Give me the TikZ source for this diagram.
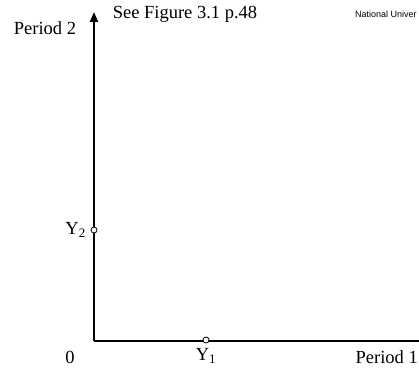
\documentclass[tikz,border=0pt]{standalone}
\usepackage{fontspec}
\setmainfont{Liberation Serif}
\newfontfamily\labelsans{Liberation Sans}
\usetikzlibrary{arrows.meta,positioning}
\tikzset{>=Stealth,every node/.style={font=\fontsize{18.5}{20}\selectfont,inner sep=0pt},
 axis/.style={line width=2.2pt},
 pointmark/.style={circle,draw,fill=white,line width=0.8pt,minimum size=6pt,inner sep=0pt}}

\begin{document}
\begin{tikzpicture}[x=1pt,y=1pt]
\useasboundingbox (0,0) rectangle (419,373);
\coordinate (origin) at (94,32);
\coordinate (ytop) at (94,361);
\coordinate (xend) at (420,32);
\draw[axis,-{Triangle[length=10pt,width=8pt]}] (origin)--(ytop);
\draw[axis] (origin)--(xend);
\node[pointmark] (ytwo) at (94,143) {};
\node[pointmark] (yone) at (206,33) {};
\node (per2) at (45,345) {Period 2};
\node (see) at (185,359) {See Figure 3.1 p.48};
\node[anchor=west,font=\labelsans\fontsize{9}{10}\selectfont] (univ) at (355,359) {National Univer};
\node (zero) at (70,16) {0};
\node (yonelab) at (206,17) {Y\textsubscript{1}};
\node[anchor=east] (per1) at (418,16) {Period 1};
\node[anchor=east] (ytwolab) at (86,143) {Y\textsubscript{2}};
\end{tikzpicture}
\end{document}
